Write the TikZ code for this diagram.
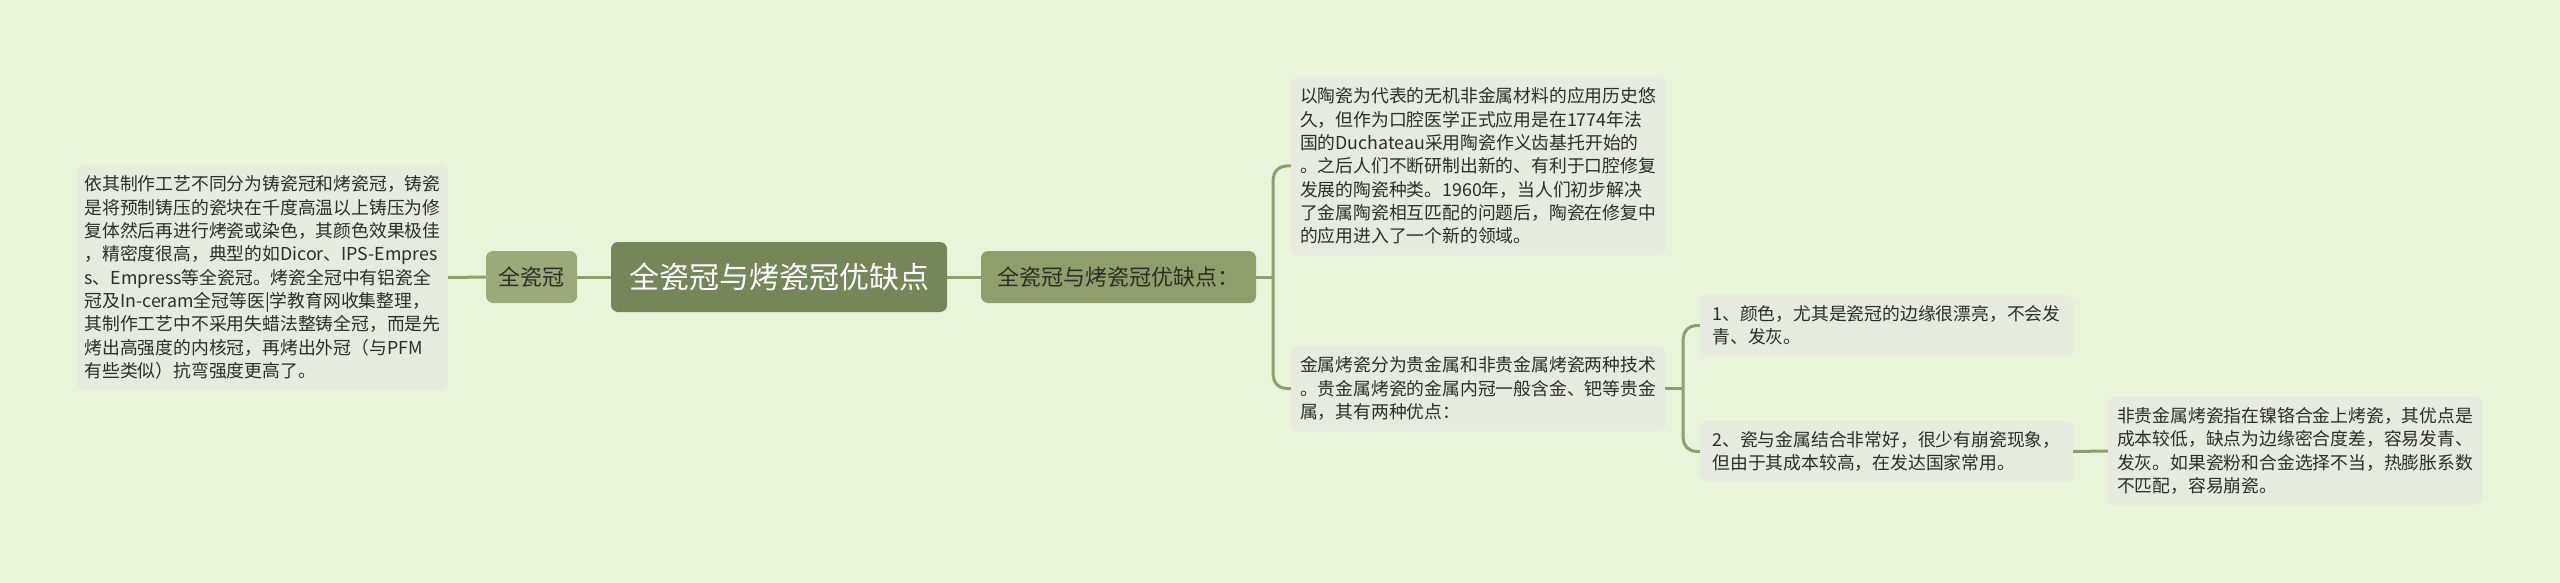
\documentclass[tikz,border=0pt]{standalone}
\usepackage{fontspec}
\setmainfont{Noto Sans CJK SC}
\usetikzlibrary{calc}
\definecolor{bgcol}{HTML}{E8F5DB}
\definecolor{leafcol}{HTML}{E6EADF}
\definecolor{rootcol}{HTML}{758658}
\definecolor{crowncol}{HTML}{9BAA78}
\definecolor{subcol}{HTML}{8F9E6A}
\definecolor{linkcol}{HTML}{909E6E}
\definecolor{textcol}{HTML}{2E2E28}

\begin{document}
\begin{tikzpicture}[x=1pt,y=-1pt]
    \tikzstyle{box}=[rectangle, rounded corners=7pt, inner sep=0pt, align=left]
    \tikzstyle{leaf}=[box, fill=leafcol, text=textcol, font=\fontsize{17.8}{23.3}\selectfont, minimum width=374pt]
    \tikzstyle{topic}=[box, fill=rootcol, text=white, font=\fontsize{30}{34}\selectfont, minimum width=336pt, minimum height=70pt]
    \tikzstyle{branch}=[box, text=textcol, font=\fontsize{22}{26}\selectfont, minimum height=52pt]
    \tikzstyle{link}=[line width=3pt, draw=linkcol, rounded corners=13pt]

    % Background and page size
    \fill[bgcol] (0,0) rectangle (2560,583);
    \useasboundingbox (0,0) rectangle (2560,583);

    % Draw the central topic and its two branches
    \node[topic] (root) at (779,277) {全瓷冠与烤瓷冠优缺点};
    \node[branch, fill=crowncol, minimum width=91pt] (crown) at (531.5,277) {全瓷冠};
    \node[branch, fill=subcol, minimum width=275pt] (pros) at (1118.5,277) {全瓷冠与烤瓷冠优缺点：};

    % Left leaf
    \node[leaf, minimum width=371pt, minimum height=225pt] (desc) at (262.5,277.5) {依其制作工艺不同分为铸瓷冠和烤瓷冠，铸瓷\\是将预制铸压的瓷块在千度高温以上铸压为修\\复体然后再进行烤瓷或染色，其颜色效果极佳\\，精密度很高，典型的如Dicor、IPS-Empres\\s、Empress等全瓷冠。烤瓷全冠中有铝瓷全\\冠及In-ceram全冠等医|学教育网收集整理，\\其制作工艺中不采用失蜡法整铸全冠，而是先\\烤出高强度的内核冠，再烤出外冠（与PFM\\有些类似）抗弯强度更高了。};

    % Right leaves
    \node[leaf, minimum height=178pt] (hist) at (1478,166) {以陶瓷为代表的无机非金属材料的应用历史悠\\久，但作为口腔医学正式应用是在1774年法\\国的Duchateau采用陶瓷作义齿基托开始的\\。之后人们不断研制出新的、有利于口腔修复\\发展的陶瓷种类。1960年，当人们初步解决\\了金属陶瓷相互匹配的问题后，陶瓷在修复中\\的应用进入了一个新的领域。};
    \node[leaf, minimum height=85pt] (metal) at (1478,388.5) {金属烤瓷分为贵金属和非贵金属烤瓷两种技术\\。贵金属烤瓷的金属内冠一般含金、钯等贵金\\属，其有两种优点：};
    \node[leaf, minimum width=373pt, minimum height=61pt] (adv1) at (1886.5,325.5) {1、颜色，尤其是瓷冠的边缘很漂亮，不会发\\青、发灰。};
    \node[leaf, minimum width=373pt, minimum height=61pt] (adv2) at (1886.5,451.5) {2、瓷与金属结合非常好，很少有崩瓷现象，\\但由于其成本较高，在发达国家常用。};
    \node[leaf, minimum height=108pt] (base) at (2295,451) {非贵金属烤瓷指在镍铬合金上烤瓷，其优点是\\成本较低，缺点为边缘密合度差，容易发青、\\发灰。如果瓷粉和合金选择不当，热膨胀系数\\不匹配，容易崩瓷。};

    % Connect the nodes
    \draw[link] (desc.east) -- (crown.west);
    \draw[link] (crown.east) -- (root.west);
    \draw[link] (root.east) -- (pros.west);

    \coordinate (fork1) at ($(pros.east)+(17,0)$);
    \draw[link] (pros.east) -- (fork1);
    \draw[link] (fork1) |- (hist.west);
    \draw[link] (fork1) |- (metal.west);

    \coordinate (fork2) at ($(metal.east)+(18,0)$);
    \draw[link] (metal.east) -- (fork2);
    \draw[link] (fork2) |- (adv1.west);
    \draw[link] (fork2) |- (adv2.west);

    \draw[link] (adv2.east) -- (base.west);
\end{tikzpicture}
\end{document}
